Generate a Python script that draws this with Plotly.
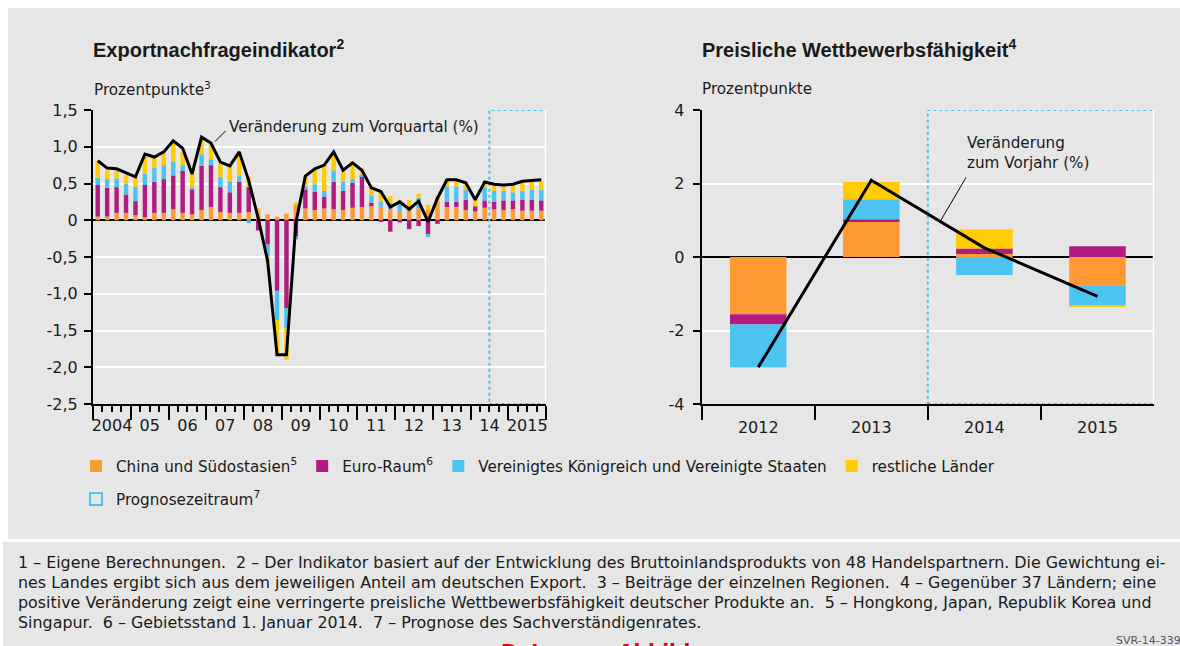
"""
Exportnachfrageindikator und preisliche Wettbewerbsfähigkeit (SVR-14-339).
Zwei Panels: gestapelte Quartalsbeiträge links, Jahresbeiträge rechts.
"""

import plotly.graph_objects as go

W, H = 1180, 646

# Farben der Regionen
ORANGE = "#ff9933"
MAGENTA = "#b01c80"
BLUE = "#4dc3f0"
YELLOW = "#ffcc00"
PANEL = "#e6e6e6"
TEXT = "#1a1a1a"

FONT = "DejaVu Sans"
TITLE_FONT = "Liberation Sans"

# --- Linkes Panel: Quartale 2004Q1 .. 2015Q4 (Index 0..47) ---
QUARTERS = list(range(48))
YEAR_LABELS = ["2004", "05", "06", "07", "08", "09", "10", "11", "12", "13", "14", "2015", ""]
Y_TICKS_LEFT = [-2.5, -2.0, -1.5, -1.0, -0.5, 0, 0.5, 1.0, 1.5]
Y_TEXT_LEFT = ["-2,5", "-2,0", "-1,5", "-1,0", "-0,5", "0", "0,5", "1,0", "1,5"]

CHINA_Q = [0.05, 0.05, 0.10, 0.10, 0.07, 0.04, 0.10, 0.10, 0.15, 0.10, 0.08, 0.14,
           0.18, 0.11, 0.10, 0.10, 0.11, 0.11, 0.08, 0.05, 0.09, 0.22, 0.16, 0.14,
           0.16, 0.15, 0.14, 0.17, 0.18, 0.19, 0.185, 0.14, 0.12, 0.20, 0.16, 0.15,
           0.25, 0.18, 0.18, 0.14, 0.12, 0.17, 0.15, 0.14, 0.15, 0.13, 0.13, 0.13]
EURO_Q = [0.43, 0.39, 0.35, 0.25, 0.19, 0.44, 0.42, 0.46, 0.46, 0.57, 0.34, 0.60,
          0.57, 0.34, 0.28, 0.42, 0.34, -0.14, -0.33, -0.96, -1.20, -0.22, 0.26, 0.25,
          0.16, 0.37, 0.26, 0.34, 0.42, 0.05, -0.02, -0.155, -0.03, -0.12, -0.08, -0.19,
          -0.05, 0.07, 0.07, 0.14, 0.07, 0.10, 0.10, 0.13, 0.12, 0.15, 0.15, 0.14]
UKUS_Q = [0.10, 0.12, 0.12, 0.15, 0.19, 0.15, 0.19, 0.19, 0.19, 0.08, 0.03, 0.16,
          0.08, 0.14, 0.15, 0.08, -0.04, 0.0, -0.16, -0.40, -0.27, -0.04, 0.04, 0.10,
          0.08, 0.16, 0.12, 0.05, 0.02, 0.09, 0.065, 0.10, 0.10, 0.0, 0.14, -0.04,
          0.0, 0.21, 0.21, 0.13, 0.0, 0.18, 0.15, 0.13, 0.11, 0.12, 0.13, 0.14]
REST_Q = [0.22, 0.12, 0.10, 0.12, 0.14, 0.23, 0.15, 0.17, 0.25, 0.18, 0.18, 0.22,
          0.22, 0.18, 0.21, 0.29, 0.14, 0.05, -0.08, -0.48, -0.43, 0.02, 0.14, 0.19,
          0.35, 0.25, 0.16, 0.24, 0.08, 0.13, 0.14, 0.09, 0.06, 0.08, 0.06, 0.06,
          0.08, 0.08, 0.09, 0.09, 0.09, 0.07, 0.07, 0.07, 0.11, 0.12, 0.11, 0.12]
CHANGE_Q = [0.81, 0.71, 0.70, 0.64, 0.59, 0.90, 0.86, 0.93, 1.08, 0.98, 0.63, 1.13,
            1.05, 0.79, 0.74, 0.93, 0.54, 0.03, -0.55, -1.83, -1.83, -0.03, 0.60, 0.70,
            0.75, 0.93, 0.68, 0.78, 0.68, 0.44, 0.39, 0.18, 0.25, 0.15, 0.26, -0.02,
            0.30, 0.55, 0.55, 0.51, 0.28, 0.52, 0.49, 0.48, 0.49, 0.53, 0.54, 0.55]

# --- Rechtes Panel: Jahre ---
YEARS = ["2012", "2013", "2014", "2015"]
Y_TICKS_RIGHT = [-4, -2, 0, 2, 4]
CHINA_Y = [-1.56, 0.95, 0.08, -0.77]
EURO_Y = [-0.28, 0.08, 0.15, 0.29]
UKUS_Y = [-1.16, 0.54, -0.49, -0.55]
REST_Y = [0.0, 0.47, 0.52, -0.03]
CHANGE_Y = [-3.0, 2.09, 0.25, -1.07]

SERIES = [
    ("China und Südostasien<sup>5</sup>", ORANGE, CHINA_Q, CHINA_Y),
    ("Euro-Raum<sup>6</sup>", MAGENTA, EURO_Q, EURO_Y),
    ("Vereinigtes Königreich und Vereinigte Staaten", BLUE, UKUS_Q, UKUS_Y),
    ("restliche Länder", YELLOW, REST_Q, REST_Y),
]

FOOTNOTES = [
    "1 – Eigene Berechnungen.\u00a0 2 – Der Indikator basiert auf der Entwicklung des "
    "Bruttoinlandsprodukts von 48 Handelspartnern. Die Gewichtung ei-",
    "nes Landes ergibt sich aus dem jeweiligen Anteil am deutschen Export.\u00a0 3 – Beiträge "
    "der einzelnen Regionen.\u00a0 4 – Gegenüber 37 Ländern; eine",
    "positive Veränderung zeigt eine verringerte preisliche Wettbewerbsfähigkeit deutscher "
    "Produkte an.\u00a0 5 – Hongkong, Japan, Republik Korea und",
    "Singapur.\u00a0 6 – Gebietsstand 1. Januar 2014.\u00a0 7 – Prognose des Sachverständigenrates.",
]


def px(x):
    return x / W


def py(y):
    return 1 - y / H


fig = go.Figure()

for name, color, q_vals, y_vals in SERIES:
    fig.add_trace(go.Bar(
        x=QUARTERS, y=q_vals, width=0.47, name=name, legendgroup=name,
        marker=dict(color=color, line=dict(width=0)),
        xaxis="x", yaxis="y",
    ))
    fig.add_trace(go.Bar(
        x=YEARS, y=y_vals, width=0.5, name=name, legendgroup=name, showlegend=False,
        marker=dict(color=color, line=dict(width=0)),
        xaxis="x2", yaxis="y2",
    ))

fig.add_trace(go.Scatter(
    x=QUARTERS, y=CHANGE_Q, mode="lines", line=dict(color="black", width=3),
    showlegend=False, xaxis="x", yaxis="y",
))
fig.add_trace(go.Scatter(
    x=YEARS, y=CHANGE_Y, mode="lines", line=dict(color="black", width=3),
    showlegend=False, xaxis="x2", yaxis="y2",
))

axis_common = dict(
    showline=True, linecolor="black", linewidth=2,
    ticks="outside", tickcolor="black", tickwidth=1.5,
    tickfont=dict(family=FONT, size=16, color=TEXT),
)
y_dom = [py(404), py(110)]

fig.update_layout(
    width=W, height=H,
    margin=dict(l=0, r=0, t=0, b=0, autoexpand=False),
    paper_bgcolor="white", plot_bgcolor=PANEL,
    barmode="relative",
    hovermode=False,
    font=dict(family=FONT, size=15, color=TEXT),
    xaxis=dict(
        domain=[px(93), px(546)], anchor="y", range=[-0.5, 47.5],
        tickmode="array", tickvals=[4 * k - 0.5 for k in range(13)], ticktext=YEAR_LABELS,
        ticklen=14, ticklabelshift=19, ticklabelstandoff=-8,
        showgrid=False, zeroline=False,
        minor=dict(ticks="outside", ticklen=6, tickwidth=1.5, tickcolor="black",
                   tick0=-0.5, dtick=1, showgrid=False),
        **axis_common,
    ),
    yaxis=dict(
        domain=y_dom, anchor="x", range=[-2.5, 1.5],
        tickmode="array", tickvals=Y_TICKS_LEFT, ticktext=Y_TEXT_LEFT, ticklen=7,
        ticklabelstandoff=3,
        gridcolor="white", gridwidth=1.5,
        zeroline=True, zerolinecolor="black", zerolinewidth=2,
        **axis_common,
    ),
    xaxis2=dict(
        domain=[px(701.7), px(1154)], anchor="y2", type="category", range=[-0.5, 3.5],
        tickson="boundaries", ticklen=14, ticklabelstandoff=8,
        showgrid=False, zeroline=False,
        **axis_common,
    ),
    yaxis2=dict(
        domain=y_dom, anchor="x2", range=[-4, 4],
        tickmode="array", tickvals=Y_TICKS_RIGHT, ticktext=[str(v) for v in Y_TICKS_RIGHT],
        ticklen=7, ticklabelstandoff=5,
        gridcolor="white", gridwidth=1.5,
        zeroline=True, zerolinecolor="black", zerolinewidth=2,
        **axis_common,
    ),
    legend=dict(
        orientation="h", x=px(76), y=py(466), xanchor="left", yanchor="middle",
        font=dict(family=FONT, size=15.2, color=TEXT), bgcolor="rgba(0,0,0,0)",
        traceorder="normal",
    ),
    legend2=dict(
        orientation="h", x=px(76), y=py(499), xanchor="left", yanchor="middle",
        font=dict(family=FONT, size=15.2, color=TEXT), bgcolor="rgba(0,0,0,0)",
    ),
)

# Hintergrundflächen
shapes = [
    dict(type="rect", xref="paper", yref="paper", x0=px(8), x1=1, y0=py(539), y1=py(8),
         fillcolor=PANEL, line=dict(width=0), layer="below"),
    dict(type="rect", xref="paper", yref="paper", x0=px(3), x1=1, y0=0, y1=py(542),
         fillcolor=PANEL, line=dict(width=0), layer="below"),
]

# Prognosezeitraum (gepunktet)
dotted = dict(color=BLUE, width=2, dash="dot")
shapes.append(dict(type="rect", xref="x", yref="y", x0=41.5, x1=47.5, y0=-2.5, y1=1.5,
                   line=dotted, layer="between", showlegend=True, legend="legend2",
                   name="Prognosezeitraum<sup>7</sup>"))
shapes.append(dict(type="rect", xref="x2", yref="y2", x0=1.5, x1=3.5, y0=-4, y1=4,
                   line=dotted, layer="between"))
# weiße rechte Begrenzung der Plotflächen
shapes.append(dict(type="line", xref="x", yref="y", x0=47.5, x1=47.5, y0=-2.5, y1=1.5,
                   line=dict(color="white", width=2.5), layer="between"))
shapes.append(dict(type="line", xref="x2", yref="y2", x0=3.5, x1=3.5, y0=-4, y1=4,
                   line=dict(color="white", width=2.5), layer="between"))
# Hinweislinien der Beschriftungen
shapes.append(dict(type="line", xref="paper", yref="paper", x0=px(225.5), y0=py(131),
                   x1=px(215), y1=py(141.5), line=dict(color="black", width=1)))
shapes.append(dict(type="line", xref="paper", yref="paper", x0=px(966), y0=py(177.5),
                   x1=px(941), y1=py(220), line=dict(color="black", width=1)))
fig.update_layout(shapes=shapes)


def note(text, x, y, size=15.2, family=FONT, color=TEXT, xanchor="left", yanchor="middle"):
    fig.add_annotation(text=text, x=px(x), y=py(y), xref="paper", yref="paper",
                       xanchor=xanchor, yanchor=yanchor, showarrow=False, align="left",
                       font=dict(family=family, size=size, color=color))


note("<b>Exportnachfrageindikator<sup>2</sup></b>", 91, 49, size=20, family=TITLE_FONT)
note("Prozentpunkte<sup>3</sup>", 92, 89)
note("<b>Preisliche Wettbewerbsfähigkeit<sup>4</sup></b>", 700, 49, size=20, family=TITLE_FONT)
note("Prozentpunkte", 700, 89)
note("Veränderung zum Vorquartal (%)", 227, 127)
note("Veränderung<br>zum Vorjahr (%)", 965, 153)

for k, line in enumerate(FOOTNOTES):
    note(line, 16, 562 + 20 * k, size=15.9)

note("SVR-14-339", 1114, 640, size=11, color="#555555")
# nur der obere Rand dieses Links ist im Original zu sehen
note("<b>Daten zur Abbildung</b>", 617, 637, size=20, color="#e2001a",
     xanchor="center", yanchor="top")

# Seitenrand entfernen und Überstand abschneiden, damit die Grafik genau das Fenster füllt
fig.write_html(
    "out.html",
    config={"displayModeBar": False},
    post_script=(
        "document.documentElement.style.cssText='margin:0;padding:0;overflow:hidden;"
        "height:646px;width:1180px;';"
        "document.body.style.cssText='margin:0;padding:0;overflow:hidden;"
        "height:646px;width:1180px;';"
        "document.querySelectorAll('.plotly-graph-div, .svg-container').forEach("
        "function(el){el.style.overflow='hidden';});"
    ),
)
